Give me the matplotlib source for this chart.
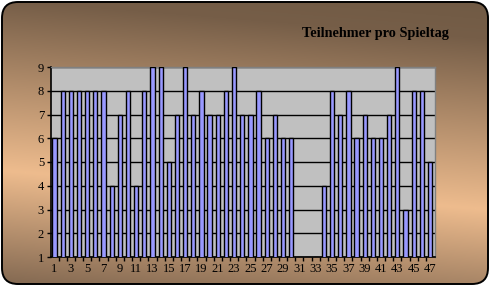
import numpy as np
import matplotlib
matplotlib.use("Agg")
import matplotlib.pyplot as plt
from matplotlib.patches import FancyBboxPatch

title = "Teilnehmer pro Spieltag"
days = list(range(1, 48))
participants = [6, 8, 8, 8, 8, 8, 8, 4, 7, 8, 4, 8, 9, 9, 5, 7, 9, 7, 8, 7,
                7, 8, 9, 7, 7, 8, 6, 7, 6, 6, 1, 1, 1, 4, 8, 7, 8, 6, 7, 6,
                6, 7, 9, 3, 8, 8, 5]
xtick_labels = [str(d) for d in days if d % 2 == 1]
ytick_values = list(range(1, 10))

W, H = 491, 287
fig = plt.figure(figsize=(W / 100, H / 100), dpi=100)
fig.patch.set_facecolor("white")

# background gradient with rounded frame
bg = fig.add_axes([0, 0, 1, 1])
bg.set_xlim(0, W)
bg.set_ylim(H, 0)
bg.axis("off")
xx, yy = np.meshgrid(np.arange(W), np.arange(H))
d = yy - 0.08 * xx
stops = [-40, 0, 170, 290]
cols = np.array([[112, 90, 68], [118, 94, 72], [238, 188, 142], [125, 100, 78]]) / 255
img = np.stack([np.interp(d, stops, cols[:, k]) for k in range(3)], axis=-1)
im = bg.imshow(img, extent=(0, W, H, 0), zorder=0)
frame = FancyBboxPatch((2, 2), W - 5, H - 5, boxstyle="round,pad=0,rounding_size=16",
                       facecolor="none", edgecolor="black", linewidth=1.4, zorder=2)
bg.add_patch(frame)
im.set_clip_path(frame)

fig.text(375 / W, 1 - 34 / H, title, ha="center", va="center",
         fontsize=10.3, fontweight="bold", family="Liberation Serif", color="black")

ax = fig.add_axes([51 / W, 1 - 257 / H, (435 - 51) / W, (257 - 67) / H])
ax.set_facecolor("#C0C0C0")
ax.set_xlim(0.57, 47.61)
ax.set_ylim(1, 9)
for y in ytick_values:
    ax.axhline(y, color="black", linewidth=1.0, zorder=1)
ax.bar([x + 0.12 for x in days], participants, width=0.52, color="#333333",
       zorder=2)
ax.bar(days, participants, width=0.52, color="#9999FF", edgecolor="black",
       linewidth=1.0, zorder=3)

ax.set_yticks(ytick_values)
ax.set_yticklabels([str(v) for v in ytick_values], family="Liberation Serif",
                   fontsize=9)
ax.set_xticks([d for d in days if d % 2 == 1])
ax.set_xticklabels(xtick_labels, family="Liberation Serif", fontsize=9)
ax.set_xticks([d + 0.5 for d in days[:-1]], minor=True)
ax.tick_params(axis="x", which="major", length=0, pad=4)
ax.tick_params(axis="x", which="minor", length=3, width=1, direction="out")
ax.tick_params(axis="y", length=3, width=1, direction="out", pad=2)
for side in ["top", "right"]:
    ax.spines[side].set_color("#808080")
    ax.spines[side].set_linewidth(1)
for side in ["left", "bottom"]:
    ax.spines[side].set_color("black")
    ax.spines[side].set_linewidth(1.2)

fig.savefig("out.png", dpi=100)
